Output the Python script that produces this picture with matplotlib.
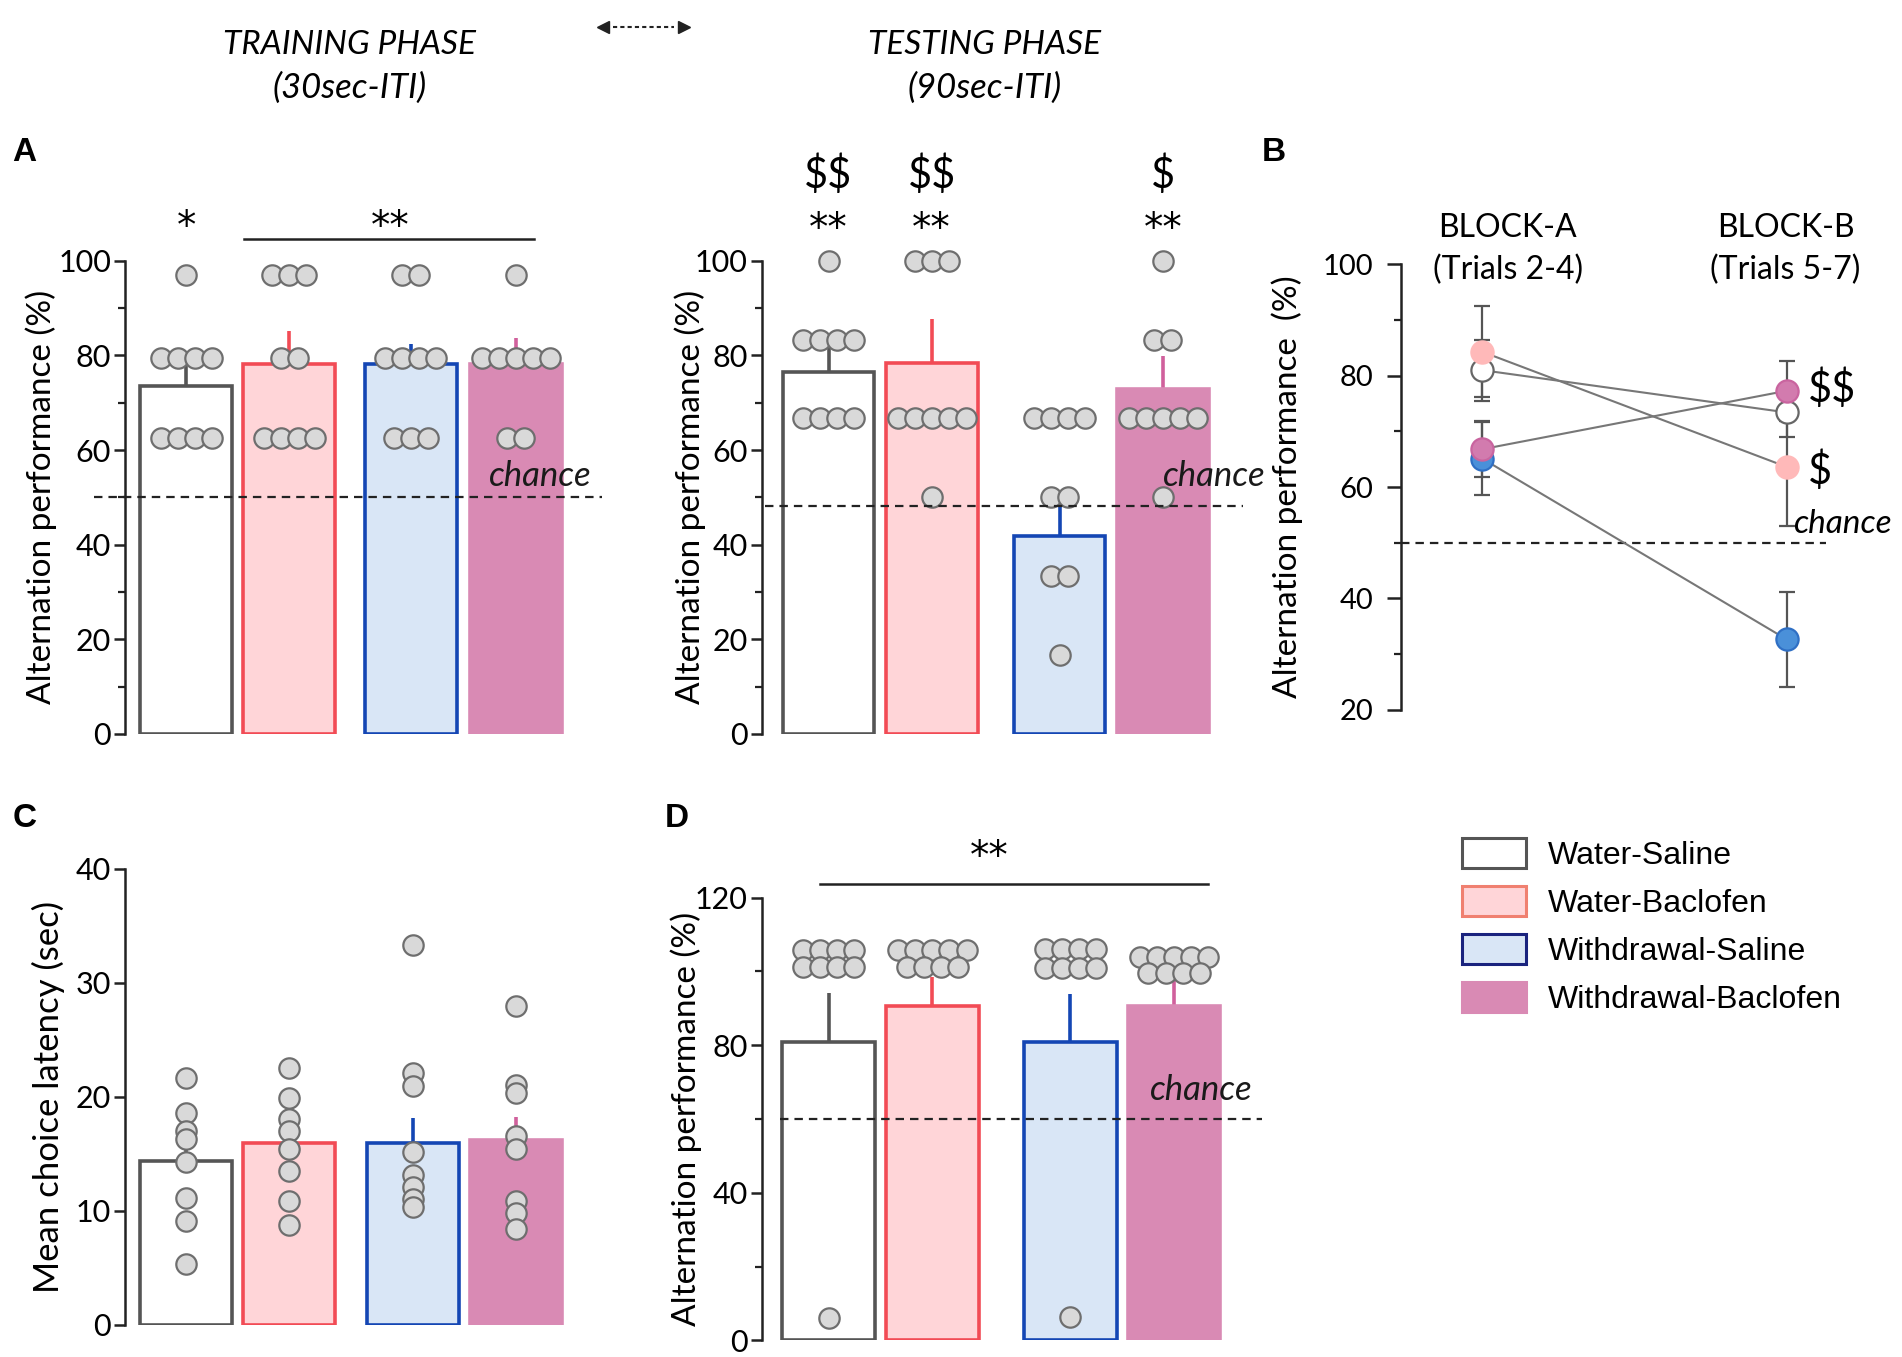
import numpy as np
import matplotlib
matplotlib.use('Agg')
import matplotlib.pyplot as plt
from matplotlib.patches import Patch

plt.rcParams['font.family'] = ['Lato', 'DejaVu Sans']
plt.rcParams['text.parse_math'] = False

groups = ['Water-Saline', 'Water-Baclofen', 'Withdrawal-Saline', 'Withdrawal-Baclofen']

# A - training phase (30sec-ITI)
train_mean = [73.5, 78.2, 78.2, 78.2]
train_sem = [4.7, 7.0, 4.2, 5.4]
train_dots = [
    [97, 79.5, 79.5, 79.5, 79.5, 62.5, 62.5, 62.5, 62.5],
    [97, 97, 97, 79.5, 79.5, 62.5, 62.5, 62.5, 62.5],
    [97, 97, 79.5, 79.5, 79.5, 79.5, 62.5, 62.5, 62.5],
    [97, 79.5, 79.5, 79.5, 79.5, 79.5, 62.5, 62.5],
]

# A - testing phase (90sec-ITI)
test_mean = [76.4, 78.5, 41.8, 73.0]
test_sem = [5.9, 9.2, 8.7, 6.8]
test_dots = [
    [100, 83.3, 83.3, 83.3, 83.3, 66.7, 66.7, 66.7, 66.7],
    [100, 100, 100, 66.7, 66.7, 66.7, 66.7, 66.7, 50],
    [66.7, 66.7, 66.7, 66.7, 50, 50, 33.3, 33.3, 16.7],
    [100, 83.3, 83.3, 66.7, 66.7, 66.7, 66.7, 66.7, 50],
]

# B - blocks
block_a = [81.0, 84.3, 65.1, 66.8]
block_a_sem = [5.5, 8.2, 6.5, 5.0]
block_b = [73.4, 63.6, 32.6, 77.3]
block_b_sem = [4.4, 10.6, 8.5, 5.4]

# C - choice latency
lat_mean = [14.35, 15.9, 15.9, 16.2]
lat_sem = [1.2, 0.9, 2.2, 2.0]
lat_dots = [
    [21.6, 18.6, 17.0, 16.3, 14.3, 11.1, 9.1, 5.3],
    [22.5, 19.9, 18.0, 17.0, 15.4, 13.5, 10.8, 8.7],
    [33.3, 22.1, 20.9, 15.1, 13.1, 12.1, 11.0, 10.3],
    [27.9, 21.0, 20.3, 16.5, 15.4, 10.8, 9.8, 8.4],
]

# D
d_mean = [80.8, 90.7, 80.8, 90.7]
d_sem = [13.3, 7.9, 13.1, 6.6]
d_dots = [
    [105.8, 105.8, 105.8, 105.8, 101.2, 101.2, 101.2, 101.2, 6.0],
    [105.8, 105.8, 105.8, 105.8, 105.8, 101.3, 101.3, 101.3, 101.3],
    [106.1, 106.1, 106.1, 106.1, 101.0, 101.0, 101.0, 101.0, 6.3],
    [103.9, 103.9, 103.9, 103.9, 103.9, 99.5, 99.5, 99.5, 99.5],
]

faces = ['#ffffff', '#ffd5d8', '#d9e6f6', '#d98ab4']
edges = ['#555555', '#f24b55', '#1446b4', '#d98ab4']
err_cols = ['#555555', '#f24b55', '#1446b4', '#d0609c']

W, H = 1568.0, 1118.7


def rect(l, t, r, b):
    return [l / W, 1 - b / H, (r - l) / W, (b - t) / H]


fig = plt.figure(figsize=(19.02, 13.57), dpi=100)


def style_axis(ax, major, minor, ylabel, labelpad=1, pad=2, lsize=24):
    for s in ['top', 'right', 'bottom']:
        ax.spines[s].set_visible(False)
    ax.spines['left'].set_linewidth(1.8)
    ax.spines['left'].set_color('#222222')
    ax.tick_params(axis='x', bottom=False, labelbottom=False)
    ax.set_yticks(major)
    if minor:
        ax.set_yticks(minor, minor=True)
    ax.tick_params(axis='y', which='major', length=8, width=1.8, labelsize=22, pad=pad, color='#222222')
    ax.tick_params(axis='y', which='minor', length=5, width=1.6, color='#222222')
    ax.set_ylabel(ylabel, fontsize=lsize, labelpad=labelpad)


def bar_panel(r, xs, means, sems, dots, ylim, xlim, spacing=0.165):
    ax = fig.add_axes(r)
    ax.bar(xs, means, width=0.89, color=faces, edgecolor=edges, linewidth=2.6, zorder=2)
    for x, m, s, c in zip(xs, means, sems, err_cols):
        ax.plot([x, x], [m, m + s], color=c, lw=2.6, zorder=1.5, solid_capstyle='butt')
    for x, vals in zip(xs, dots):
        seen = []
        for v in vals:
            if v not in seen:
                seen.append(v)
        for v in seen:
            n = vals.count(v)
            offs = (np.arange(n) - (n - 1) / 2) * spacing
            ax.scatter(x + offs, [v] * n, s=215, c='#d9d9d9', edgecolors='#6e6e6e',
                       linewidths=1.6, zorder=4, clip_on=False)
    ax.set_ylim(*ylim)
    ax.set_xlim(*xlim)
    return ax


def chance(ax, x0, x1, y, tx, ty):
    ax.plot([x0, x1], [y, y], ls=(0, (3.8, 2.7)), color='#222222', lw=1.6, clip_on=False, zorder=5)
    ax.text(tx, ty, 'chance', fontsize=25, style='italic', ha='left', va='center', color='#1a1a1a', zorder=6)


def stars(ax, x, y, s):
    ax.text(x, y, s, fontsize=28, ha='center', va='baseline', family='DejaVu Sans')


# ---- A training
train_x = [0, 1, 2.18, 3.2]
ax1 = bar_panel(rect(103, 215, 500, 605), train_x, train_mean, train_sem, train_dots, (0, 100), (-0.594, 4.08))
style_axis(ax1, [0, 20, 40, 60, 80, 100], [10, 30, 50, 70, 90], 'Alternation performance (%)')
chance(ax1, -0.89, 4.04, 50, 2.94, 54.5)
stars(ax1, 0, 104.8, '*')
ax1.plot([0.56, 3.38], [104.6, 104.6], color='#222222', lw=1.8, clip_on=False)
stars(ax1, 1.98, 104.8, '**')

# ---- A testing
test_x = [0, 1, 2.24, 3.24]
ax2 = bar_panel(rect(628, 215, 1030, 605), test_x, test_mean, test_sem, test_dots, (0, 100), (-0.647, 4.08))
style_axis(ax2, [0, 20, 40, 60, 80, 100], [10, 30, 50, 70, 90], 'Alternation performance (%)', labelpad=-8)
chance(ax2, -0.62, 4.02, 48.2, 3.24, 54.5)
for i, sym in [(0, '$$'), (1, '$$'), (3, '$')]:
    stars(ax2, test_x[i], 104.5, '**')
    ax2.text(test_x[i], 118.2, sym, fontsize=30, ha='center', va='center')

# ---- B
ax3 = fig.add_axes(rect(1155, 218, 1510, 585))
style_axis(ax3, [20, 40, 60, 80, 100], [30, 50, 70, 90], 'Alternation performance  (%)', labelpad=14, pad=10)
ax3.tick_params(axis='y', which='major', length=10, labelsize=21)
ax3.set_ylim(20, 100)
ax3.set_xlim(-0.267, 1.147)
ax3.plot([-0.267, 1.127], [50, 50], ls=(0, (3.8, 2.7)), color='#222222', lw=1.6, clip_on=False)
ax3.text(1.02, 53.3, 'chance', fontsize=24, style='italic', ha='left', va='center')
b_face = ['#ffffff', '#ffb9b9', '#4a90d9', '#d27bae']
b_edge = ['#666666', '#ffb9b9', '#2f6fc4', '#c9649f']
for i in [1, 0, 2, 3]:
    ax3.plot([0, 1], [block_a[i], block_b[i]], color='#777777', lw=1.5, zorder=2)
    ax3.errorbar([0, 1], [block_a[i], block_b[i]], yerr=[block_a_sem[i], block_b_sem[i]], fmt='none',
                 ecolor='#555555', elinewidth=1.6, capsize=6, capthick=1.6, zorder=1)
for i in [1, 0, 2, 3]:
    ax3.plot([0, 1], [block_a[i], block_b[i]], ls='none', marker='o', markersize=16,
             mfc=b_face[i], mec=b_edge[i], mew=1.6, zorder=3 + i, clip_on=False)
ax3.text(0.084, 106.5, 'BLOCK-A', fontsize=23, ha='center', va='center', clip_on=False)
ax3.text(0.084, 99.1, '(Trials 2-4)', fontsize=23, ha='center', va='center', clip_on=False)
ax3.text(0.996, 106.5, 'BLOCK-B', fontsize=23, ha='center', va='center', clip_on=False)
ax3.text(0.996, 99.1, '(Trials 5-7)', fontsize=23, ha='center', va='center', clip_on=False)
ax3.text(1.07, 77.7, '$$', fontsize=30, ha='left', va='center')
ax3.text(1.07, 63.0, '$', fontsize=30, ha='left', va='center')

# ---- C
lat_x = [0, 1, 2.2, 3.2]
ax4 = bar_panel(rect(103, 716, 500, 1092), lat_x, lat_mean, lat_sem, lat_dots, (0, 40), (-0.594, 4.08))
style_axis(ax4, [0, 10, 20, 30, 40], [], 'Mean choice latency (sec)', labelpad=8, lsize=25)

# ---- D
d_x = [0, 1, 2.33, 3.33]
ax5 = bar_panel(rect(628, 740, 1045, 1105), d_x, d_mean, d_sem, d_dots, (0, 120), (-0.643, 4.23))
style_axis(ax5, [0, 40, 80, 120], [20, 60, 100], 'Alternation performance (%)', labelpad=-5)
chance(ax5, -0.47, 4.18, 60, 3.1, 67.8)
ax5.plot([-0.08, 3.66], [123.7, 123.7], color='#222222', lw=1.8, clip_on=False)
stars(ax5, 1.55, 128.0, '**')

# ---- headers
fig.text(288 / W, 1 - 37 / H, 'TRAINING PHASE', fontsize=24, style='italic', ha='center', va='center')
fig.text(288 / W, 1 - 72 / H, '(30sec-ITI)', fontsize=25, style='italic', ha='center', va='center')
fig.text(812 / W, 1 - 37 / H, 'TESTING PHASE', fontsize=24, style='italic', ha='center', va='center')
fig.text(812 / W, 1 - 72 / H, '(90sec-ITI)', fontsize=25, style='italic', ha='center', va='center')
ya = 1 - 22 / H
fig.add_artist(plt.Line2D([505 / W, 556 / W], [ya, ya], ls=(0, (2, 1.5)), color='#222222', lw=1.5))
fig.add_artist(plt.Line2D([497 / W], [ya], marker='<', markersize=8, color='#222222', ls='none'))
fig.add_artist(plt.Line2D([564 / W], [ya], marker='>', markersize=8, color='#222222', ls='none'))

for lbl, x, y in [('A', 10, 133), ('B', 1040, 133), ('C', 10, 682), ('D', 548, 682)]:
    fig.text(x / W, 1 - y / H, lbl, fontsize=24, fontweight='bold', family='Liberation Sans',
             ha='left', va='baseline')

# ---- legend
leg_edges = ['#555555', '#f08070', '#1a237e', '#d98ab4']
handles = [Patch(facecolor=f, edgecolor=e, linewidth=2.2) for f, e in zip(faces, leg_edges)]
fig.legend(handles, groups, loc='upper left', bbox_to_anchor=(1205 / W, 1 - 691 / H), frameon=False,
           prop={'family': 'Liberation Sans', 'size': 23}, handlelength=2.0, handleheight=1.07,
           labelspacing=0.47, handletextpad=0.7, borderpad=0, borderaxespad=0)

fig.savefig('out.png', dpi=100)
